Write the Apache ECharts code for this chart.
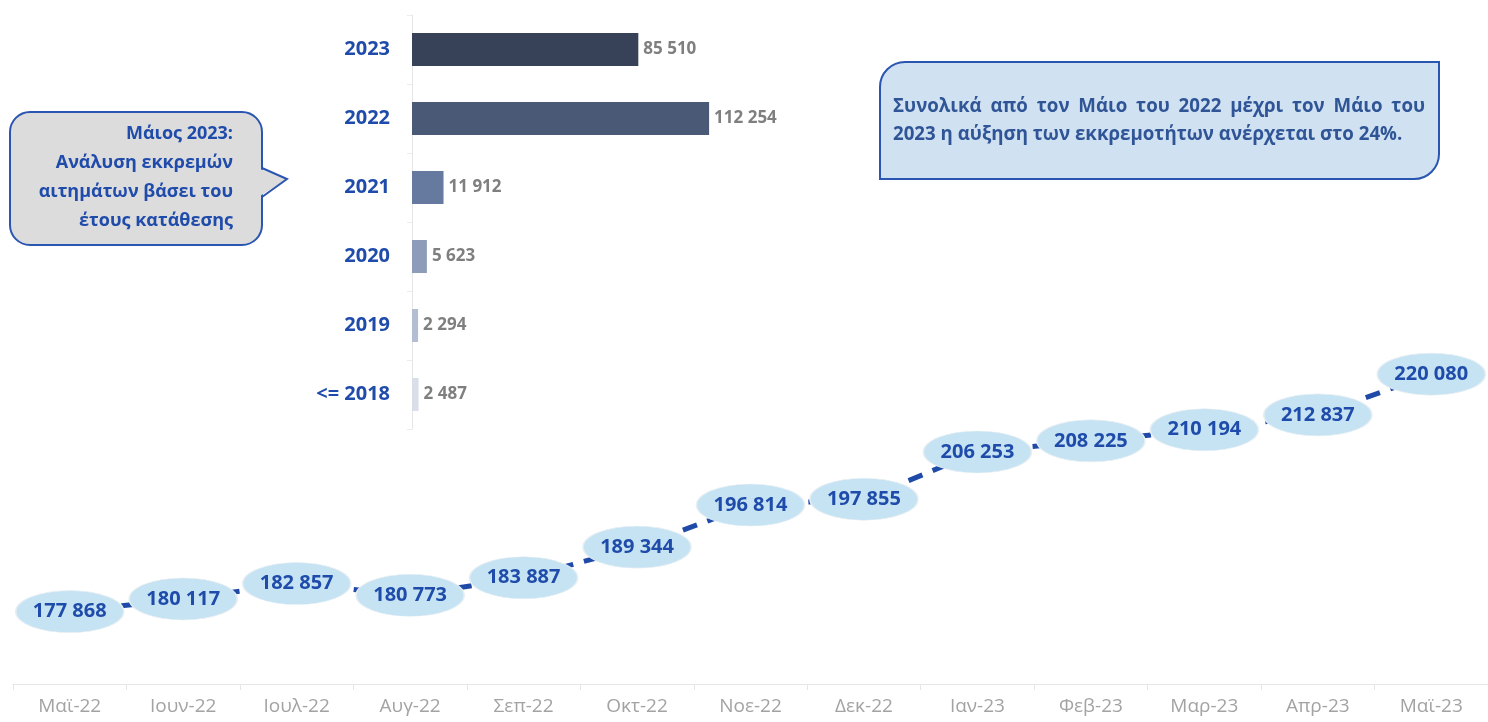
<!DOCTYPE html>
<html>
<head>
<meta charset="utf-8">
<title>Εκκρεμότητες</title>
<script src="https://cdn.jsdelivr.net/npm/echarts@6/dist/echarts.min.js"></script>
<style>
html,body{margin:0;padding:0;background:#fff}
#main{width:1488px;height:722px}
</style>
</head>
<body>
<div id="main"></div>
<script>
// μηνιαίες εκκρεμότητες
var months = ['Μαϊ-22', 'Ιουν-22', 'Ιουλ-22', 'Αυγ-22', 'Σεπ-22', 'Οκτ-22', 'Νοε-22', 'Δεκ-22', 'Ιαν-23', 'Φεβ-23', 'Μαρ-23', 'Απρ-23', 'Μαϊ-23'];
var pending = [177868, 180117, 182857, 180773, 183887, 189344, 196814, 197855, 206253, 208225, 210194, 212837, 220080];

// ανάλυση ανά έτος κατάθεσης
var years = ['2023', '2022', '2021', '2020', '2019', '<= 2018'];
var byYear = [85510, 112254, 11912, 5623, 2294, 2487];
var barColors = ['#374259', '#4a5976', '#667a9f', '#8c9cb9', '#b4bed3', '#d9dee9'];

var boxText1 = ['Συνολικά', 'από', 'τον', 'Μάιο', 'του', '2022', 'μέχρι', 'τον', 'Μάιο', 'του'];
var boxText2 = '2023 η αύξηση των εκκρεμοτήτων ανέρχεται στο 24%.';
var calloutText = 'Μάιος 2023:\nΑνάλυση εκκρεμών\nαιτημάτων βάσει του\nέτους κατάθεσης';

var FONT = '"Open Sans", "Noto Sans", sans-serif';

function fmt(v) {
    return String(v).replace(/\B(?=(\d{3})+(?!\d))/g, ' ');
}

// στοίχιση πλήρους πλάτους για την πρώτη γραμμή
function justify(words, x0, x1, y, font, color) {
    var ctx = document.createElement('canvas').getContext('2d');
    ctx.font = font;
    var widths = words.map(function (w) { return ctx.measureText(w).width; });
    var total = widths.reduce(function (a, b) { return a + b; }, 0);
    var gap = (x1 - x0 - total) / (words.length - 1);
    var x = x0, out = [];
    words.forEach(function (w, i) {
        out.push({
            type: 'text', x: x, y: y, z: 20,
            style: { text: w, font: font, fill: color, verticalAlign: 'middle' }
        });
        x += widths[i] + gap;
    });
    return out;
}

var chart = echarts.init(document.getElementById('main'));

var boxFont = 'bold 18.7px ' + FONT;
var graphics = [
    // αριστερό συννεφάκι
    {
        type: 'rect', z: 10,
        shape: { x: 10, y: 112, width: 252, height: 133, r: 20 },
        style: { fill: '#dcdcdc', stroke: '#2a55b0', lineWidth: 2 }
    },
    {
        type: 'polygon', z: 11,
        shape: { points: [[260, 169], [287, 179], [260, 196]] },
        style: { fill: '#dcdcdc' }
    },
    {
        type: 'polyline', z: 12,
        shape: { points: [[262, 168], [287, 179], [262, 197]] },
        style: { stroke: '#2a55b0', lineWidth: 2, fill: null }
    },
    {
        type: 'text', x: 233, y: 119, z: 20,
        style: { text: calloutText, font: 'bold 18px ' + FONT, fill: '#1f4bab', align: 'right', verticalAlign: 'top', lineHeight: 29 }
    },
    // δεξί πλαίσιο
    {
        type: 'rect', z: 10,
        shape: { x: 880, y: 62, width: 559, height: 117, r: [25, 0, 25, 0] },
        style: { fill: '#d0e1f2', stroke: '#2a55b0', lineWidth: 2 }
    },
    {
        type: 'text', x: 893, y: 135, z: 20,
        style: { text: boxText2, font: boxFont, fill: '#2f5597', verticalAlign: 'middle' }
    }
].concat(justify(boxText1, 893, 1425, 107, boxFont, '#2f5597'));

var option = {
    animation: false,
    textStyle: { fontFamily: FONT },
    grid: [
        { left: 13, right: 0, top: 9, bottom: 38 },
        { left: 412, top: 15, width: 397, height: 414 }
    ],
    xAxis: [
        {
            type: 'category', gridIndex: 0, data: months, boundaryGap: true,
            axisLine: { lineStyle: { color: '#e6e6e6' } },
            axisTick: { show: true, length: 6, lineStyle: { color: '#e6e6e6' } },
            axisLabel: { color: '#a3a3a3', fontSize: 19, margin: 13 }
        },
        {
            type: 'value', gridIndex: 1, min: 0, max: 150000, show: false
        }
    ],
    yAxis: [
        {
            type: 'value', gridIndex: 0, min: 165000, max: 285000, show: false
        },
        {
            type: 'category', gridIndex: 1, data: years, inverse: true,
            axisLine: { show: true, lineStyle: { color: '#e6e6e6' } },
            axisTick: { show: true, length: 5, lineStyle: { color: '#ececec' } },
            axisLabel: { color: '#1f4bab', fontSize: 20, fontWeight: 'bold', margin: 22 }
        }
    ],
    series: [
        {
            type: 'line', xAxisIndex: 0, yAxisIndex: 0,
            data: pending,
            symbol: 'circle',
            symbolSize: [108, 42],
            lineStyle: { color: '#1f4aa8', width: 5, type: [15, 11] },
            itemStyle: { color: '#c5e3f2', borderColor: '#e6eef3', borderWidth: 1 },
            label: {
                show: true, position: 'inside',
                color: '#1f4bab', fontSize: 20, fontWeight: 'bold',
                formatter: function (p) { return fmt(p.value); }
            },
            z: 5
        },
        {
            type: 'bar', xAxisIndex: 1, yAxisIndex: 1,
            barWidth: 33,
            data: byYear.map(function (v, i) {
                return { value: v, itemStyle: { color: barColors[i] } };
            }),
            label: {
                show: true, position: 'right', distance: 5,
                color: '#7f7f7f', fontSize: 17, fontWeight: 'bold',
                formatter: function (p) { return fmt(p.value); }
            }
        }
    ],
    graphic: graphics
};

chart.setOption(option);
</script>
</body>
</html>
